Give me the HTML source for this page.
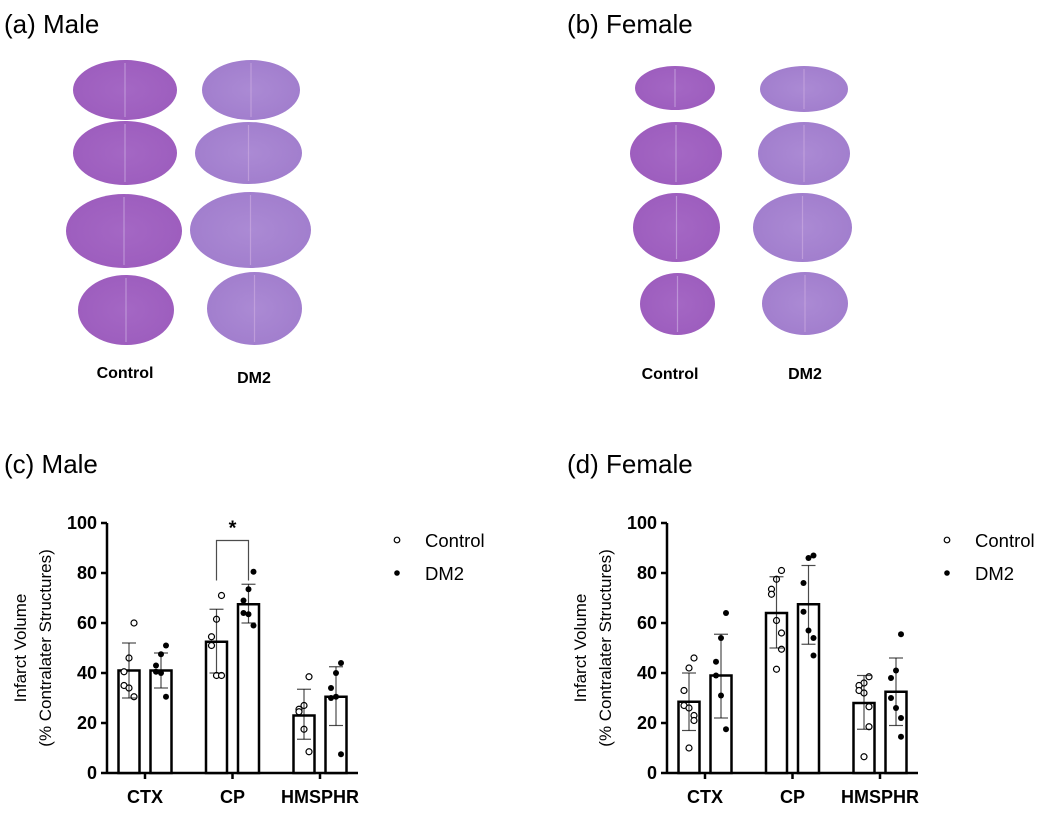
<!DOCTYPE html>
<html><head><meta charset="utf-8">
<style>
body{margin:0;background:#fff;width:1050px;height:813px;overflow:hidden;font-family:"Liberation Sans",sans-serif}
svg{position:absolute;left:0;top:0}
</style></head>
<body>
<svg id="fig" width="1050" height="813" xmlns="http://www.w3.org/2000/svg">
<defs>
<radialGradient id="gc" cx="50%" cy="50%" r="60%"><stop offset="0" stop-color="#a467c4"/><stop offset="1" stop-color="#9c5cbd"/></radialGradient>
<radialGradient id="gd" cx="50%" cy="50%" r="60%"><stop offset="0" stop-color="#ab8ad4"/><stop offset="1" stop-color="#a07ccc"/></radialGradient>
</defs>
<text x="4" y="33" font-size="26">(a) Male</text>
<text x="567" y="33" font-size="26">(b)  Female</text>
<g id="slices"></g>
<text x="125" y="378" font-size="16" font-weight="bold" text-anchor="middle">Control</text>
<text x="254" y="383" font-size="16" font-weight="bold" text-anchor="middle">DM2</text>
<text x="670" y="379" font-size="16" font-weight="bold" text-anchor="middle">Control</text>
<text x="805" y="379" font-size="16" font-weight="bold" text-anchor="middle">DM2</text>
<text x="4" y="473" font-size="26">(c) Male</text>
<text x="567" y="473" font-size="26">(d)  Female</text>
<g id="chartC"></g>
<g id="chartD"></g>
</svg>
<script>
const NS="http://www.w3.org/2000/svg";
function mk(p,t,a){const e=document.createElementNS(NS,t);for(const k in a)e.setAttribute(k,a[k]);p.appendChild(e);return e;}
const slices=[[73,60,177,120,0],[73,121,177,185,0],[66,194,182,268,0],[78,275,174,345,0],
[202,60,300,120,1],[195,122,302,184,1],[190,192,311,268,1],[207,272,302,345,1],
[635,66,715,110,0],[630,122,722,185,0],[633,193,720,262,0],[640,273,715,335,0],
[760,66,848,112,1],[758,122,850,185,1],[753,193,852,262,1],[762,272,848,335,1]];
const sg=document.getElementById('slices');
slices.forEach(s=>{
 const cx=(s[0]+s[2])/2,cy=(s[1]+s[3])/2,rx=(s[2]-s[0])/2,ry=(s[3]-s[1])/2;
 const e=mk(sg,'ellipse',{cx:cx,cy:cy,rx:rx,ry:ry,fill:s[4]?'url(#gd)':'url(#gc)'});
 
 
 mk(sg,'line',{x1:cx,y1:s[1]+3,x2:cx,y2:s[3]-3,stroke:'#c9a8e0','stroke-width':1.2,opacity:0.7});
});

const categories=["CTX","CP","HMSPHR"];
const yTicks=[0,20,40,60,80,100];
const maleCtrlMean=[41,52.5,23], maleCtrlLo=[30,40,13.5], maleCtrlHi=[52,65.5,33.5];
const maleDMMean=[41,67.5,30.5], maleDMLo=[34,60,19], maleDMHi=[48,75.5,42.5];
const maleCtrlPts=[[60,46,40.5,35,34,30.5],[71,61.5,54.5,51,39,39],[38.5,27,25.5,24.5,17.5,8.5]];
const maleDMPts=[[51,47.5,43,40.5,40,30.5],[80.5,73.5,69,64,63.5,59],[44,40,34,30,30.5,7.5]];
const femCtrlMean=[28.5,64,28], femCtrlLo=[17,50,17.5], femCtrlHi=[40,78.5,39];
const femDMMean=[39,67.5,32.5], femDMLo=[22,51.5,19], femDMHi=[55.5,83,46];
const femCtrlPts=[[46,42,33,27,26,23,21,10],[81,77.5,73.5,71.5,61,56,49.5,41.5],[38.5,36,35,33,32,26.5,18.5,6.5]];
const femDMPts=[[64,54,44.5,39,31,17.5],[87,86,76,64.5,57,54,47],[55.5,41,38,30,26,22,14.5]];

function chart(g,ox,d){
 const y0=773,y1=523,xA=ox+107,xE=ox+358;
 const Y=v=>y0-(v/100)*(y0-y1);
 const X=i=>ox+145+i*87.5;
 mk(g,'line',{x1:xA,y1:y1,x2:xA,y2:y0,stroke:'#000','stroke-width':2.5});
 mk(g,'line',{x1:xA,y1:y0,x2:xE,y2:y0,stroke:'#000','stroke-width':2.5});
 yTicks.forEach(t=>{
  mk(g,'line',{x1:xA-6,y1:Y(t),x2:xA,y2:Y(t),stroke:'#000','stroke-width':2.5});
  const tx=mk(g,'text',{x:xA-10,y:Y(t)+6,'font-size':18,'font-weight':'bold','text-anchor':'end'});tx.textContent=t;
  
  
 });
 categories.forEach((c,i)=>{
  mk(g,'line',{x1:X(i),y1:y0,x2:X(i),y2:y0+6,stroke:'#000','stroke-width':2.5});
  const tx=mk(g,'text',{x:X(i),y:y0+30,'font-size':18,'font-weight':'bold','text-anchor':'middle'});tx.textContent=c;
  
  
  [[-16,d.cm,d.cl,d.ch,d.cp,false],[16,d.dm,d.dl,d.dh,d.dp,true]].forEach(s=>{
   const cx=X(i)+s[0];
   const b=mk(g,'rect',{x:cx-10.5,y:Y(s[1][i]),width:21,height:y0-Y(s[1][i]),fill:'#fff',stroke:'#000','stroke-width':2.5});
   
   
   const pts=s[4][i];
   pts.forEach((v,k)=>{
    const jx=((k%3)-1)*5*(k%2?1:-1);
    const p=mk(g,'circle',{cx:cx+jx,cy:Y(v),r:3,fill:s[5]?'#000':'#fff',stroke:'#000','stroke-width':s[5]?0:1.2});
    
    
   });
   mk(g,'line',{x1:cx,y1:Y(s[2][i]),x2:cx,y2:Y(s[3][i]),stroke:'#000','stroke-width':1.2,opacity:0.7});
   mk(g,'line',{x1:cx-7,y1:Y(s[2][i]),x2:cx+7,y2:Y(s[2][i]),stroke:'#000','stroke-width':1.2,opacity:0.7});
   mk(g,'line',{x1:cx-7,y1:Y(s[3][i]),x2:cx+7,y2:Y(s[3][i]),stroke:'#000','stroke-width':1.2,opacity:0.7});
  });
 });
 const yl=mk(g,'text',{transform:`translate(${ox+26},648) rotate(-90)`,'font-size':17,'text-anchor':'middle'});yl.textContent='Infarct Volume';
 
 
 const yl2=mk(g,'text',{transform:`translate(${ox+51},648) rotate(-90)`,'font-size':17,'text-anchor':'middle'});yl2.textContent='(% Contralater Structures)';
 
 
 const lx=d.lx;
 mk(g,'circle',{cx:lx,cy:540,r:2.8,fill:'#fff',stroke:'#000','stroke-width':1.2});
 mk(g,'circle',{cx:lx,cy:573,r:2.8,fill:'#000'});
 const l1=mk(g,'text',{x:lx+28,y:547,'font-size':18.5});l1.textContent='Control';
 
 
 const l2=mk(g,'text',{x:lx+28,y:580,'font-size':18.5});l2.textContent='DM2';
 
 
 return {X,Y};
}
const gc=document.getElementById('chartC');
const ax=chart(gc,0,{cm:maleCtrlMean,cl:maleCtrlLo,ch:maleCtrlHi,cp:maleCtrlPts,dm:maleDMMean,dl:maleDMLo,dh:maleDMHi,dp:maleDMPts,lx:397});
chart(document.getElementById('chartD'),560,{cm:femCtrlMean,cl:femCtrlLo,ch:femCtrlHi,cp:femCtrlPts,dm:femDMMean,dl:femDMLo,dh:femDMHi,dp:femDMPts,lx:947});
const bx1=ax.X(1)-16,bx2=ax.X(1)+16,by=ax.Y(93);
const br=mk(gc,'path',{d:`M${bx1},${ax.Y(77)} V${by} H${bx2} V${ax.Y(77)}`,fill:'none',stroke:'#000','stroke-width':1.2,opacity:0.7});


const st=mk(gc,'text',{x:ax.X(1),y:by-6,'font-size':20,'font-weight':'bold','text-anchor':'middle'});st.textContent='*';


</script>
</body></html>
